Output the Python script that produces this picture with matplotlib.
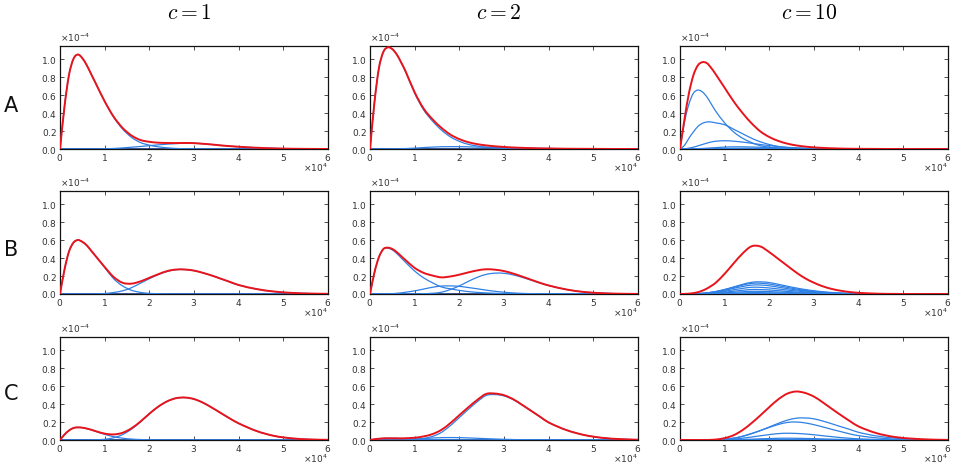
import numpy as np
import matplotlib
matplotlib.use("Agg")
import matplotlib.pyplot as plt
from matplotlib.path import Path
from matplotlib.patches import PathPatch

# ---------------- data (x in units of 1e4, density in units of 1e-4) ----------------
X_GRID = [0, 0.1, 0.2, 0.3, 0.4, 0.5, 0.6, 0.7, 0.8, 1.0, 1.2, 1.4, 1.6, 1.8, 2.0,
          2.2, 2.4, 2.6, 2.8, 3.0, 3.2, 3.4, 3.6, 3.8, 4.0, 4.4, 4.8, 5.2, 5.6, 6.0]

col_titles = [r"$c = 1$", r"$c = 2$", r"$c = 10$"]
row_labels = ["A", "B", "C"]

# ---- row A ----
A1_total = [0, .47, .82, 1.0, 1.05, 1.01, .93, .83, .73, .53, .36, .235, .15, .10, .08,
            .07, .067, .066, .067, .065, .058, .05, .04, .032, .025, .014, .007, .003, .001, 0]
A1_comp1 = [0, .47, .82, 1.0, 1.05, 1.01, .93, .83, .73, .528, .354, .223, .13, .072, .043,
            .024, .013, .006, .003, .001, 0, 0, 0, 0, 0, 0, 0, 0, 0, 0]
A1_comp2 = [0, 0, 0, 0, 0, 0, 0, 0, 0, .002, .006, .012, .02, .028, .037,
            .046, .054, .06, .064, .064, .058, .05, .04, .032, .025, .014, .007, .003, .001, 0]

A2_total = [0, .52, .9, 1.08, 1.13, 1.11, 1.05, .96, .86, .63, .45, .33, .235, .16, .11,
            .076, .054, .04, .03, .023, .017, .013, .01, .007, .006, .003, .002, .001, 0, 0]
A2_comp1 = [0, .52, .9, 1.08, 1.13, 1.11, 1.05, .958, .855, .62, .435, .31, .21, .135, .085,
            .052, .033, .02, .012, .007, .004, .002, .001, 0, 0, 0, 0, 0, 0, 0]
A2_comp2 = [0, 0, 0, 0, 0, .001, .002, .003, .005, .01, .016, .021, .025, .026, .026,
            .024, .021, .019, .017, .015, .013, .011, .009, .007, .006, .003, .002, .001, 0, 0]

A3_total = [0, .33, .62, .82, .93, .965, .955, .9, .83, .68, .53, .40, .287, .195, .133,
            .09, .06, .04, .027, .018, .012, .008, .005, .003, .002, .001, 0, 0, 0, 0]
A3_comp1 = [0, .30, .50, .62, .655, .635, .58, .50, .42, .29, .19, .12, .072, .036, .021,
            .012, .007, .004, .002, .001, 0, 0, 0, 0, 0, 0, 0, 0, 0, 0]
A3_comp2 = [0, .04, .12, .19, .25, .285, .30, .30, .29, .27, .22, .17, .12, .08, .05,
            .028, .016, .01, .006, .003, .001, 0, 0, 0, 0, 0, 0, 0, 0, 0]
A3_comp3 = [0, .002, .01, .02, .035, .05, .065, .078, .086, .092, .087, .077, .064, .05, .038,
            .027, .019, .013, .009, .006, .004, .002, .001, 0, 0, 0, 0, 0, 0, 0]
A3_comp4 = [0, 0, .001, .002, .004, .006, .009, .012, .015, .021, .024, .024, .022, .019, .016,
            .012, .009, .006, .004, .003, .002, .001, 0, 0, 0, 0, 0, 0, 0, 0]
A3_comp5 = [0, 0, 0, 0, .001, .001, .002, .003, .004, .006, .007, .008, .008, .007, .006,
            .005, .004, .003, .002, .001, .001, 0, 0, 0, 0, 0, 0, 0, 0, 0]

# ---- row B ----
B1_total = [0, .27, .47, .57, .6, .58, .54, .48, .42, .30, .19, .125, .115, .14, .18,
            .22, .255, .272, .272, .26, .235, .205, .17, .135, .10, .055, .027, .012, .005, .002]
B1_comp1 = [0, .27, .47, .57, .6, .58, .54, .48, .42, .295, .17, .09, .042, .018, .007,
            .003, .001, 0, 0, 0, 0, 0, 0, 0, 0, 0, 0, 0, 0, 0]
B1_comp2 = [0, 0, 0, 0, 0, 0, 0, 0, .001, .005, .017, .035, .07, .12, .17,
            .215, .25, .27, .272, .26, .235, .205, .17, .135, .10, .055, .027, .012, .005, .002]

B2_total = [0, .24, .41, .5, .515, .5, .465, .42, .375, .29, .235, .205, .185, .195, .215,
            .24, .262, .275, .27, .255, .228, .195, .16, .125, .095, .05, .022, .009, .003, .001]
B2_comp1 = [0, .24, .41, .5, .51, .49, .45, .40, .35, .255, .18, .125, .078, .058, .04,
            .027, .018, .012, .008, .005, .003, .002, .001, 0, 0, 0, 0, 0, 0, 0]
B2_comp2 = [0, 0, 0, 0, .002, .004, .008, .013, .02, .035, .055, .075, .088, .09, .085,
            .072, .058, .043, .03, .02, .012, .007, .004, .002, .001, 0, 0, 0, 0, 0]
B2_comp3 = [0, 0, 0, 0, 0, 0, 0, 0, 0, .001, .004, .008, .02, .05, .09,
            .14, .185, .218, .232, .23, .213, .186, .155, .123, .094, .05, .022, .009, .003, .001]

B3_total = [0, .001, .004, .01, .02, .037, .06, .09, .125, .225, .34, .45, .53, .528, .465,
            .39, .315, .24, .175, .125, .085, .056, .036, .022, .013, .004, .001, 0, 0, 0]
B3_comp1 = [0, 0, .001, .002, .004, .007, .012, .019, .027, .05, .078, .107, .13, .135, .127,
            .108, .087, .067, .05, .036, .025, .017, .011, .007, .004, .001, 0, 0, 0, 0]
B3_comp2 = [0, 0, .001, .002, .004, .007, .012, .019, .027, .049, .074, .099, .118, .12, .11,
            .093, .074, .056, .041, .029, .02, .013, .008, .005, .003, .001, 0, 0, 0, 0]
B3_comp3 = [0, 0, .001, .002, .004, .007, .011, .017, .024, .042, .063, .083, .099, .10, .091,
            .076, .06, .046, .034, .024, .016, .011, .007, .004, .002, .001, 0, 0, 0, 0]
B3_comp4 = [0, 0, .001, .001, .003, .005, .008, .013, .018, .031, .047, .062, .075, .074, .067,
            .056, .044, .034, .025, .018, .012, .008, .005, .003, .002, 0, 0, 0, 0, 0]
B3_comp5 = [0, 0, 0, .001, .002, .004, .006, .009, .012, .021, .031, .041, .05, .049, .045,
            .037, .029, .022, .016, .012, .008, .005, .003, .002, .001, 0, 0, 0, 0, 0]
B3_comp6 = [0, 0, 0, .001, .001, .002, .003, .005, .007, .013, .019, .025, .03, .029, .027,
            .022, .018, .013, .01, .007, .005, .003, .002, .001, .001, 0, 0, 0, 0, 0]
B3_comp7 = [0, 0, 0, 0, .001, .001, .002, .003, .004, .006, .009, .012, .015, .015, .013,
            .011, .009, .007, .005, .004, .002, .002, .001, .001, 0, 0, 0, 0, 0, 0]
B3_comp8 = [0, 0, 0, 0, 0, 0, .001, .001, .002, .003, .004, .006, .007, .007, .006,
            .005, .004, .003, .002, .002, .001, .001, 0, 0, 0, 0, 0, 0, 0, 0]

# ---- row C ----
C1_total = [0, .06, .105, .133, .14, .137, .127, .114, .098, .071, .062, .08, .13, .205, .292,
            .371, .43, .465, .472, .455, .415, .36, .30, .24, .185, .10, .045, .018, .006, .002]
C1_comp1 = [0, .06, .105, .133, .14, .137, .127, .113, .096, .063, .037, .02, .01, .005, .002,
            .001, 0, 0, 0, 0, 0, 0, 0, 0, 0, 0, 0, 0, 0, 0]
C1_comp2 = [0, 0, 0, 0, 0, 0, 0, .001, .002, .008, .025, .06, .12, .20, .29,
            .37, .43, .465, .472, .455, .415, .36, .30, .24, .185, .10, .045, .018, .006, .002]

C2_total = [0, .008, .014, .018, .019, .019, .019, .018, .02, .025, .04, .066, .113, .188, .276,
            .363, .445, .512, .516, .498, .455, .393, .327, .261, .195, .11, .055, .024, .01, .003]
C2_comp1 = [0, .008, .014, .018, .019, .019, .018, .016, .014, .01, .007, .004, .002, .001, 0,
            0, 0, 0, 0, 0, 0, 0, 0, 0, 0, 0, 0, 0, 0, 0]
C2_comp2 = [0, 0, 0, 0, 0, 0, .001, .002, .004, .009, .016, .022, .026, .027, .026,
            .023, .019, .015, .011, .008, .005, .003, .002, .001, 0, 0, 0, 0, 0, 0]
C2_comp3 = [0, 0, 0, 0, 0, 0, 0, 0, .002, .006, .017, .04, .085, .16, .25,
            .34, .425, .495, .505, .49, .45, .39, .325, .26, .195, .11, .055, .024, .01, .003]

C3_total = [0, 0, 0, 0, 0, 0, 0, .002, .005, .021, .053, .11, .187, .274, .366,
            .452, .515, .539, .523, .482, .417, .346, .277, .211, .15, .076, .034, .015, .005, .001]
C3_comp1 = [0, 0, 0, 0, 0, 0, 0, .001, .002, .008, .02, .04, .07, .105, .145,
            .185, .22, .242, .245, .235, .21, .18, .148, .118, .085, .045, .022, .01, .004, .001]
C3_comp2 = [0, 0, 0, 0, 0, 0, 0, .001, .002, .008, .02, .042, .072, .105, .14,
            .172, .195, .20, .19, .17, .145, .118, .093, .068, .048, .024, .01, .004, .001, 0]
C3_comp3 = [0, 0, 0, 0, 0, 0, 0, 0, .001, .004, .01, .02, .033, .047, .06,
            .071, .075, .073, .067, .058, .047, .037, .027, .019, .013, .006, .002, .001, 0, 0]
C3_comp4 = [0, 0, 0, 0, 0, 0, 0, 0, 0, .001, .003, .006, .009, .013, .016,
            .019, .02, .019, .017, .015, .012, .009, .007, .005, .003, .001, 0, 0, 0, 0]
C3_comp5 = [0, 0, 0, 0, 0, 0, 0, 0, 0, 0, .001, .002, .003, .004, .005,
            .005, .005, .005, .004, .004, .003, .002, .002, .001, .001, 0, 0, 0, 0, 0]

panels = [
    [(A1_total, [A1_comp1, A1_comp2]),
     (A2_total, [A2_comp1, A2_comp2]),
     (A3_total, [A3_comp1, A3_comp2, A3_comp3, A3_comp4, A3_comp5])],
    [(B1_total, [B1_comp1, B1_comp2]),
     (B2_total, [B2_comp1, B2_comp2, B2_comp3]),
     (B3_total, [B3_comp1, B3_comp2, B3_comp3, B3_comp4, B3_comp5, B3_comp6, B3_comp7, B3_comp8])],
    [(C1_total, [C1_comp1, C1_comp2]),
     (C2_total, [C2_comp1, C2_comp2, C2_comp3]),
     (C3_total, [C3_comp1, C3_comp2, C3_comp3, C3_comp4, C3_comp5])],
]


def smooth_curve(ax, xs, ys, **kw):
    """Draw a smooth cubic Bezier line passing through the given data points."""
    xs = np.asarray(xs, float)
    ys = np.asarray(ys, float)
    n = len(xs)
    h = np.diff(xs)
    m = np.zeros(n)
    m[0] = (ys[1] - ys[0]) / h[0]
    m[-1] = (ys[-1] - ys[-2]) / h[-1]
    for i in range(1, n - 1):
        m[i] = (ys[i + 1] - ys[i - 1]) / (xs[i + 1] - xs[i - 1])
    verts = [(xs[0], ys[0])]
    codes = [Path.MOVETO]
    for i in range(n - 1):
        verts.append((xs[i] + h[i] / 3, ys[i] + m[i] * h[i] / 3))
        verts.append((xs[i + 1] - h[i] / 3, ys[i + 1] - m[i + 1] * h[i] / 3))
        verts.append((xs[i + 1], ys[i + 1]))
        codes += [Path.CURVE4] * 3
    patch = PathPatch(Path(verts, codes), fill=False, capstyle="round",
                      joinstyle="round", **kw)
    ax.add_patch(patch)


# ---------------- drawing ----------------
W, H = 958, 465
fig = plt.figure(figsize=(W / 100, H / 100), dpi=100)

col_left = [60, 370, 680]
row_top = [46, 191, 337]
ax_w, ax_h = 268, 103

RED = "#e8141c"
BLUE = "#2f80e4"
NAVY = "#1a3f8c"
TXT = "#333333"
x = np.array(X_GRID) * 1e4

for r in range(3):
    for c in range(3):
        ax = fig.add_axes([col_left[c] / W, 1 - (row_top[r] + ax_h) / H, ax_w / W, ax_h / H])
        total, comps = panels[r][c]
        ax.axhline(0, color=NAVY, lw=1.2, zorder=2)
        for comp in comps:
            smooth_curve(ax, x, np.array(comp) * 1e-4, edgecolor=BLUE, lw=0.9, zorder=3)
        smooth_curve(ax, x, np.array(total) * 1e-4, edgecolor=RED, lw=1.4, zorder=4)
        ax.set_xlim(0, 6e4)
        ax.set_ylim(0, 1.145e-4)
        ax.set_xticks(np.arange(0, 6.01e4, 1e4))
        ax.set_yticks(np.arange(0, 1.01e-4, 0.2e-4))
        ax.ticklabel_format(axis="both", style="sci", scilimits=(0, 0), useMathText=True)
        ax.xaxis.get_offset_text().set_visible(False)
        ax.yaxis.get_offset_text().set_visible(False)
        ax.text(1.0, -0.12, r"$\times10^{4}$", transform=ax.transAxes, ha="right",
                va="top", fontsize=6.5, color=TXT)
        ax.text(0.0, 1.02, r"$\times10^{-4}$", transform=ax.transAxes, ha="left",
                va="bottom", fontsize=6.5, color=TXT)
        ax.tick_params(direction="in", length=3, width=0.6, top=True, right=True,
                       labelsize=6.5, colors=TXT, pad=2.5)
        for sp in ax.spines.values():
            sp.set_linewidth(0.9)
            sp.set_color("#111111")

for c in range(3):
    cx = (col_left[c] + ax_w / 2 - 5) / W
    fig.text(cx, 1 - 13 / H, col_titles[c], ha="center", va="center",
             fontsize=15.5, math_fontfamily="cm")

row_y = [106, 250, 394]
for r in range(3):
    fig.text(11 / W, 1 - row_y[r] / H, row_labels[r], ha="center", va="center",
             fontsize=15, color="#111111")

fig.savefig("out.png", dpi=100)
